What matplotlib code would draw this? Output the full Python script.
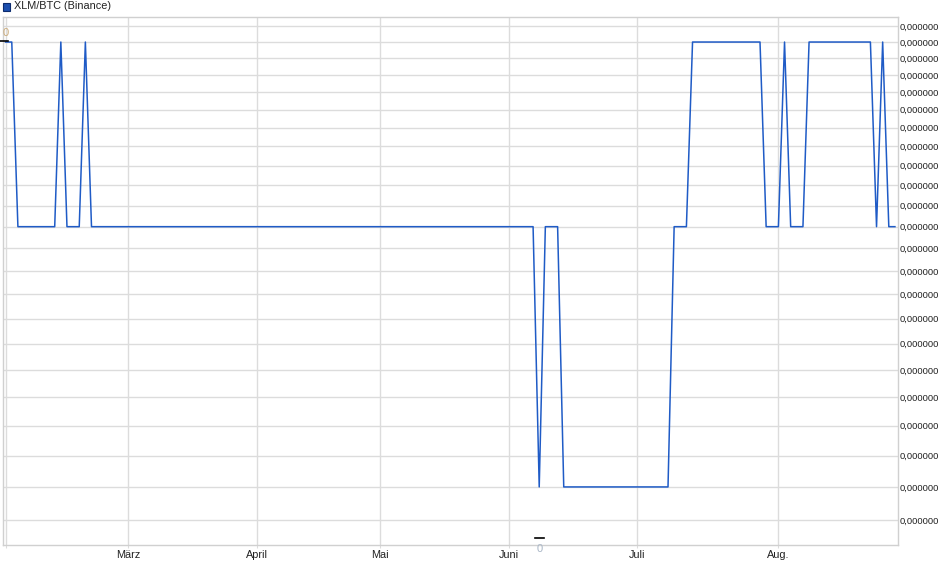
import matplotlib
matplotlib.use("Agg")
import matplotlib.pyplot as plt
from matplotlib.patches import Rectangle
from matplotlib.ticker import FixedLocator, FixedFormatter, NullLocator

plt.rcParams['font.family'] = ['Liberation Sans', 'DejaVu Sans']

# ---- data (trading-day index -> XLM/BTC close, rounded to 6 decimals) ----
day_index = list(range(146))
price = [
    0.000004, 0.000004, 0.000003, 0.000003, 0.000003, 0.000003, 0.000003, 0.000003,
    0.000003, 0.000004, 0.000003, 0.000003, 0.000003, 0.000004, 0.000003, 0.000003,
    0.000003, 0.000003, 0.000003, 0.000003, 0.000003, 0.000003, 0.000003, 0.000003,
    0.000003, 0.000003, 0.000003, 0.000003, 0.000003, 0.000003, 0.000003, 0.000003,
    0.000003, 0.000003, 0.000003, 0.000003, 0.000003, 0.000003, 0.000003, 0.000003,
    0.000003, 0.000003, 0.000003, 0.000003, 0.000003, 0.000003, 0.000003, 0.000003,
    0.000003, 0.000003, 0.000003, 0.000003, 0.000003, 0.000003, 0.000003, 0.000003,
    0.000003, 0.000003, 0.000003, 0.000003, 0.000003, 0.000003, 0.000003, 0.000003,
    0.000003, 0.000003, 0.000003, 0.000003, 0.000003, 0.000003, 0.000003, 0.000003,
    0.000003, 0.000003, 0.000003, 0.000003, 0.000003, 0.000003, 0.000003, 0.000003,
    0.000003, 0.000003, 0.000003, 0.000003, 0.000003, 0.000003, 0.000003, 0.000002,
    0.000003, 0.000003, 0.000003, 0.000002, 0.000002, 0.000002, 0.000002, 0.000002,
    0.000002, 0.000002, 0.000002, 0.000002, 0.000002, 0.000002, 0.000002, 0.000002,
    0.000002, 0.000002, 0.000002, 0.000002, 0.000002, 0.000003, 0.000003, 0.000003,
    0.000004, 0.000004, 0.000004, 0.000004, 0.000004, 0.000004, 0.000004, 0.000004,
    0.000004, 0.000004, 0.000004, 0.000004, 0.000003, 0.000003, 0.000003, 0.000004,
    0.000003, 0.000003, 0.000003, 0.000004, 0.000004, 0.000004, 0.000004, 0.000004,
    0.000004, 0.000004, 0.000004, 0.000004, 0.000004, 0.000004, 0.000003, 0.000004,
    0.000003, 0.000003,
]

month_pos = [0, 20, 41, 61, 82, 103, 126]
month_labels = ['', 'März', 'April', 'Mai', 'Juni', 'Juli', 'Aug.']

y_ticks = [0.0000019, 0.0000020, 0.0000021, 0.0000022, 0.0000023, 0.0000024,
           0.0000025, 0.0000026, 0.0000027, 0.0000028, 0.0000029, 0.0000030,
           0.0000031, 0.0000032, 0.0000033, 0.0000034, 0.0000035, 0.0000036,
           0.0000037, 0.0000038, 0.0000039, 0.0000040, 0.0000041]
y_labels = ['0,000000'] * len(y_ticks)

series_name = 'XLM/BTC (Binance)'

# ---- figure ----
W, H = 940, 579
fig = plt.figure(figsize=(W / 100, H / 100), dpi=100)
ax = fig.add_axes([3 / W, (H - 545) / H, 895 / W, (545 - 16.7) / H])

line_color = '#1f5bc6'
grid_color = '#dcdcdc'
text_color = '#222222'
ax.plot(day_index, price, color=line_color, lw=1.1, zorder=3)

ax.set_yscale('log')
ax.set_ylim(1.827e-6, 4.161e-6)
ax.set_xlim(-0.43, 145.5)

ax.yaxis.set_major_locator(FixedLocator(y_ticks))
ax.yaxis.set_major_formatter(FixedFormatter(y_labels))
ax.yaxis.set_minor_locator(NullLocator())
ax.yaxis.tick_right()
ax.tick_params(axis='y', length=0, pad=1.5, labelsize=6.8, labelcolor=text_color)

ax.xaxis.set_major_locator(FixedLocator(month_pos))
ax.xaxis.set_major_formatter(FixedFormatter(month_labels))
ax.xaxis.set_minor_locator(NullLocator())
ax.tick_params(axis='x', length=2, color=grid_color, pad=1.5, labelsize=7.8,
               labelcolor=text_color)

ax.grid(True, color=grid_color, lw=1.0, zorder=0)
for s in ax.spines.values():
    s.set_color('#d0d0d0')
    s.set_linewidth(1.0)

# min / max markers
ax.plot([-0.92, 0.38], [0.9546, 0.9546], color='black', lw=1.2,
        transform=ax.get_xaxis_transform(), clip_on=False, zorder=4)
ax.text(-0.05, 0.969, '0', transform=ax.get_xaxis_transform(), ha='center',
        va='center', fontsize=8, color='#c9a978', zorder=4)
ax.plot([86.3, 87.8], [0.0138, 0.0138], color='black', lw=1.2,
        transform=ax.get_xaxis_transform(), clip_on=False, zorder=4)
ax.text(87.0, -0.008, '0', transform=ax.get_xaxis_transform(), ha='center',
        va='center', fontsize=8, color='#a9b6c6', clip_on=False, zorder=4)

# legend
fig.patches.append(Rectangle((3 / W, 1 - 10.5 / H), 7 / W, 8 / H,
                             transform=fig.transFigure, facecolor='#1c4fae',
                             edgecolor='#0d2c6e', lw=0.8))
fig.text(14 / W, 1 - 6 / H, series_name, ha='left', va='center',
         fontsize=7.8, color=text_color)

fig.savefig('out.png', dpi=100)
